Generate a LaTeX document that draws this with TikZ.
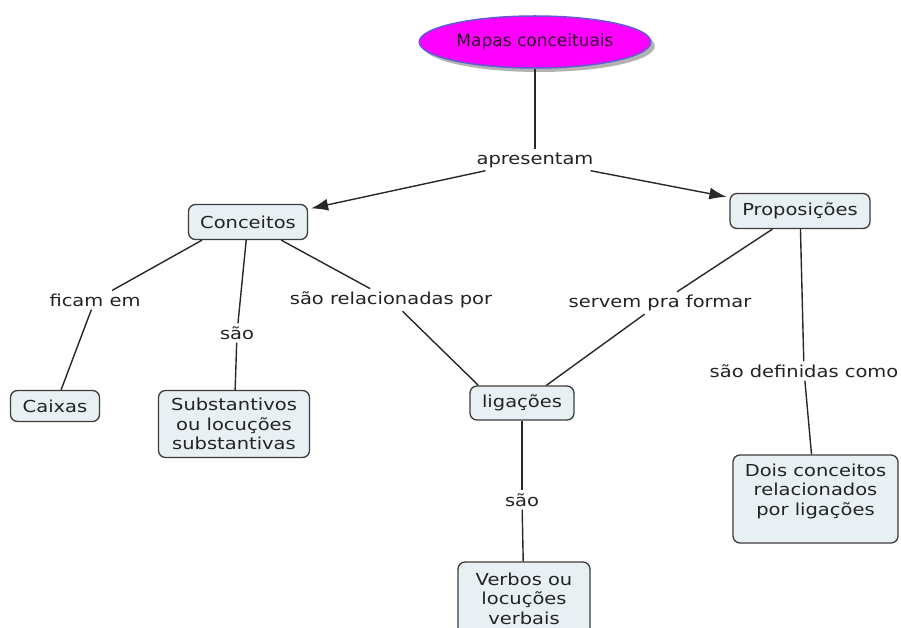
\documentclass[tikz,border=0pt]{standalone}
\usepackage{fontspec}
\setmainfont{DejaVu Sans}[FakeStretch=1.18]
\newfontfamily\titlefont{DejaVu Sans}
\usetikzlibrary{arrows.meta,shapes.geometric,shadows}
\definecolor{boxfill}{RGB}{232,240,244}
\definecolor{boxline}{RGB}{60,60,60}
\definecolor{linecol}{RGB}{40,40,40}
\definecolor{textcol}{RGB}{35,35,35}
\definecolor{elborder}{RGB}{100,90,215}
\definecolor{magentafill}{RGB}{255,0,255}
\definecolor{titletext}{RGB}{50,0,50}
\tikzset{
  box/.style={draw=boxline, fill=boxfill, rounded corners=7pt, line width=1.3pt, align=center, text=textcol, inner sep=2pt},
  lbl/.style={text=textcol, inner sep=3pt},
  conn/.style={draw=linecol, line width=1.4pt},
  arr/.style={conn, -{Latex[length=17pt,width=12pt]}, shorten >=3pt},
}
\begin{document}
\begin{tikzpicture}[x=1pt,y=-1pt, font=\fontsize{16.5}{19.5}\selectfont]
\clip (0,0) rectangle (901,628);
\fill[white] (0,0) rectangle (901,628);

% title
\node[ellipse, minimum width=186pt, minimum height=52pt, fill=magentafill, draw=elborder, line width=1.5pt,
      drop shadow={shadow xshift=4pt, shadow yshift=-4pt, fill=black!30, opacity=1},
      font=\titlefont\fontsize{17}{20}\selectfont, text=titletext] (title) at (535,42) {Mapas conceituais};

% concept boxes
\node[box, minimum width=119pt, minimum height=35pt] (conc) at (248,222) {Conceitos};
\node[box, minimum width=140pt, minimum height=35pt] (prop) at (800,211) {Proposições};
\node[box, minimum width=89pt, minimum height=31pt] (caix) at (55,406) {Caixas};
\node[box, minimum width=151pt, minimum height=67pt] (subs) at (234,424) {Substantivos\\ou locuções\\substantivas};
\node[box, minimum width=104pt, minimum height=34pt] (lig) at (522,403) {ligações};
\node[box, minimum width=165pt, minimum height=88pt] (dois) at (815.5,499) {};
\node[align=center, anchor=north, text=textcol, inner sep=0pt] (doistxt) at ([yshift=-9pt]dois.north) {Dois conceitos\\relacionados\\por ligações};
\node[box, minimum width=132pt, minimum height=80pt] (verb) at (524,602) {};
\node[align=center, anchor=north, text=textcol, inner sep=0pt] (verbtxt) at ([yshift=-11pt]verb.north) {Verbos ou\\locuções\\verbais};

% linking phrases
\node[lbl] (apr) at (535,160) {apresentam};
\node[lbl] (ficam) at (95,300) {ficam em};
\node[lbl] (sao1) at (237,333) {são};
\node[lbl] (rel) at (391,300) {são relacionadas por};
\node[lbl] (serv) at (660,303) {servem pra formar};
\node[lbl] (def) at (804,371) {são definidas como};
\node[lbl] (sao2) at (522,500) {são};

% connectors
\draw[conn] (title) -- (apr);
\draw[arr] (apr) -- (conc);
\draw[arr] (apr) -- (prop);

\draw[conn] ([xshift=-46pt]conc.south) -- (ficam);
\draw[conn] (ficam) -- (caix);
\draw[conn] (conc) -- (sao1);
\draw[conn] (sao1) -- (subs);
\draw[conn] (conc) -- (rel);
\draw[conn] (rel) -- ([xshift=9pt]lig.north west);

\draw[conn] (prop) -- (serv);
\draw[conn] (serv) -- (lig);
\draw[conn] (prop) -- (def);
\draw[conn] (def) -- ([xshift=-4pt]dois.north);

\draw[conn] (lig) -- (sao2);
\draw[conn] (sao2) -- (verb);
\end{tikzpicture}
\end{document}
